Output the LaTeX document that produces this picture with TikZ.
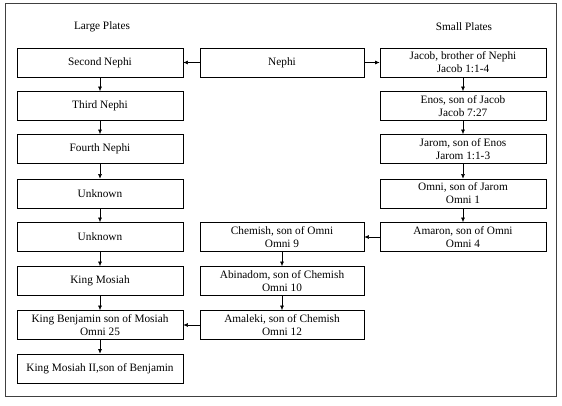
\documentclass[tikz,border=0pt]{standalone}
\usepackage{fontspec}
\setmainfont{Liberation Serif}
\usetikzlibrary{arrows.meta}
\begin{document}
\begin{tikzpicture}[x=1pt,y=-1pt,
 box/.style={draw, line width=0.7pt, minimum width=166pt, minimum height=29pt, inner sep=0pt, align=center, font=\fontsize{11.3}{13}\selectfont},
 mbox/.style={box, minimum width=164pt},
 lbl/.style={font=\fontsize{11.3}{13}\selectfont},
 arr/.style={-{Latex[length=4.5pt,width=4pt]}, line width=0.6pt}]
\useasboundingbox (0,0) rectangle (562,406);
\draw[black!75, line width=0.9pt] (5.5,3.5) rectangle (556,396);
\node[lbl] (lp) at (102,27) {Large Plates};
\node[lbl] (sp) at (464,27) {Small Plates};
% left column
\node[box] (l1) at (100,62.5) {Second Nephi};
\node[box] (l2) at (100,106) {Third Nephi};
\node[box] (l3) at (100,149) {Fourth Nephi};
\node[box] (l4) at (100,193.5) {Unknown};
\node[box] (l5) at (100,237) {Unknown};
\node[box] (l6) at (100,281) {King Mosiah};
\node[box] (l7) at (100,325) {King Benjamin son of Mosiah\\Omni 25};
\node[box] (l8) at (100,368.5) {King Mosiah II,son of Benjamin};
% middle column
\node[mbox] (n) at (282,62.5) {Nephi};
\node[mbox] (m1) at (282,237) {Chemish, son of Omni\\Omni 9};
\node[mbox] (m2) at (282,281) {Abinadom, son of Chemish\\Omni 10};
\node[mbox] (m3) at (282,325) {Amaleki, son of Chemish\\Omni 12};
% right column
\node[box] (r1) at (463,62.5) {Jacob, brother of Nephi\\Jacob 1:1-4};
\node[box] (r2) at (463,106) {Enos, son of Jacob\\Jacob 7:27};
\node[box] (r3) at (463,149) {Jarom, son of Enos\\Jarom 1:1-3};
\node[box] (r4) at (463,193.5) {Omni, son of Jarom\\Omni 1};
\node[box] (r5) at (463,237) {Amaron, son of Omni\\Omni 4};
% arrows
\draw[arr] (n) -- (l1);
\draw[arr] (n) -- (r1);
\foreach \a/\b in {l1/l2,l2/l3,l3/l4,l4/l5,l5/l6,l6/l7,l7/l8,r1/r2,r2/r3,r3/r4,r4/r5,m1/m2,m2/m3}
  \draw[arr] (\a) -- (\b);
\draw[arr] (r5) -- (m1);
\draw[arr] (m3) -- (l7);
\end{tikzpicture}
\end{document}
